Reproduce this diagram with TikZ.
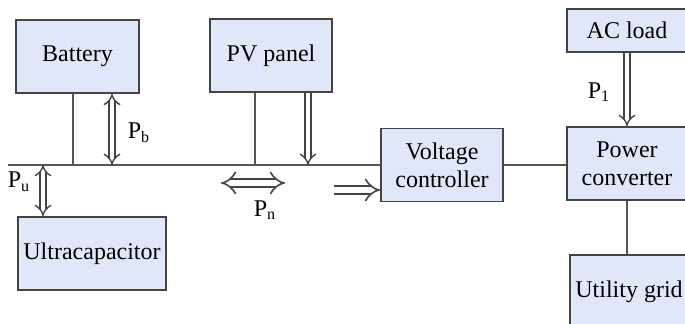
\documentclass[tikz,border=0pt]{standalone}
\usepackage{fontspec}
\setmainfont{Liberation Serif}
\usetikzlibrary{arrows.meta}

\definecolor{boxfill}{HTML}{DFE8F8}
\definecolor{boxline}{HTML}{444444}
\definecolor{wire}{HTML}{555555}

\begin{document}
\begin{tikzpicture}[
      x=0.5pt, y=-0.5pt,
      font=\fontsize{12}{14}\selectfont,
      box/.style={draw=boxline, line width=0.9pt, fill=boxfill, inner sep=0pt,
        align=center, minimum height=36.5pt},
      wire/.style={draw=wire, line width=0.75pt},
      flow/.style={draw=boxline, line width=0.7pt, double=white, double distance=2.2pt},
      wideflow/.style={flow, line width=0.8pt, double distance=3.2pt},
      hollow/.tip={Implies[width=7pt, length=3.8pt]},
      bighollow/.tip={Implies[width=10pt, length=5pt]}
    ]
    \useasboundingbox (0,0) rectangle (685,324);
    \clip (0,0) rectangle (685,324);
    % blocks
    \node (bat) [box, minimum width=61.5pt] at (77.5,56.5) {Battery};
    \node (pv) [box, minimum width=61pt] at (271,55.5) {PV panel};
    \node (uc) [box, minimum width=74pt] at (92,253.5) {Ultracapacitor};
    \node (vc) [box, minimum width=61pt] at (442,165) {Voltage\\controller};
    \node (ac) [box, minimum width=60pt, minimum height=21.5pt] at (627,30.5) {AC load};
    \node (pc) [box, minimum width=60pt] at (627,163.5) {Power\\converter};
    \node (ug) [box, minimum width=59pt] at (629,291.5) {Utility grid};
    % points on the bus
    \coordinate (busL) at (8,165);
    \coordinate (tapBat) at (73,165);
    \coordinate (tapPb) at (112,165);
    \coordinate (tapPu) at (43,165);
    \coordinate (tapPV) at (255,165);
    \coordinate (tapPpv) at (308,165);
    \coordinate (pnL) at (221,183);
    \coordinate (pnR) at (285,183);
    \coordinate (vcIn) at (334,190);
    % wires
    \draw[wire] (busL) -- (vc.west);
    \draw[wire] (tapBat |- bat.south) -- (tapBat);
    \draw[wire] (tapPV |- pv.south) -- (tapPV);
    \draw[wire] (vc.east) -- (vc.east -| pc.west);
    \draw[wire] (pc.south) -- (pc.south |- ug.north);
    % power flows
    \draw[flow, {hollow}-{hollow}] (tapPb |- bat.south) -- (tapPb);
    \draw[flow, {hollow}-{hollow}] (tapPu) -- (tapPu |- uc.north);
    \draw[flow, -{hollow}] (tapPpv |- pv.south) -- (tapPpv);
    \draw[flow, -{hollow}] (ac.south) -- (ac.south |- pc.north);
    \draw[wideflow, {bighollow}-{bighollow}] (pnL) -- (pnR);
    \draw[wideflow, -{bighollow}] (vcIn) -- (vcIn -| vc.west);
    % labels
    \node (lPb) at (139,133) {P\textsubscript{b}};
    \node (lPu) at (19,182) {P\textsubscript{u}};
    \node (lPn) at (265,210) {P\textsubscript{n}};
    \node (lP1) at (599,92) {P\textsubscript{1}};
  \end{tikzpicture}
\end{document}
